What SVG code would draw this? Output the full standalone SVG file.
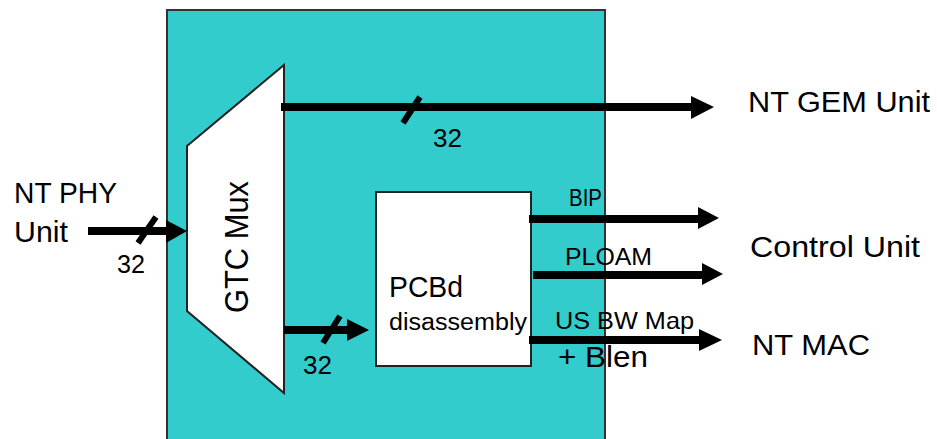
<svg xmlns="http://www.w3.org/2000/svg" width="937" height="439" viewBox="0 0 937 439">
<style>
text{font-family:"Liberation Sans",Arial,sans-serif;fill:#000}
.big{font-size:30px}
.mid{font-size:24px}
.num{font-size:25px}
.wire{stroke:#000;stroke-width:8;fill:none}
.tick{stroke:#000;stroke-width:6;fill:none}
.head{fill:#000;stroke:none}
.shape{fill:#fff;stroke:#222;stroke-width:2}
</style>
<rect width="937" height="439" fill="#fff"/>
<g id="gtc-block">
<rect x="167" y="10" width="438" height="440" fill="#33CCCC" stroke="#333" stroke-width="2"/>
</g>
<g id="gtc-mux">
<polygon class="shape" points="187,146 284,65 284,393 187,311"/>
<text transform="translate(248,247) rotate(-90)" text-anchor="middle" font-size="34" textLength="132" lengthAdjust="spacingAndGlyphs">GTC Mux</text>
</g>
<g id="pcbd">
<rect class="shape" x="376" y="192" width="155" height="174"/>
<text x="389" y="297" font-size="30" textLength="74" lengthAdjust="spacingAndGlyphs">PCBd</text>
<text x="389" y="330" font-size="23" textLength="138" lengthAdjust="spacingAndGlyphs">disassembly</text>
</g>
<g id="nt-phy">
<text class="big" x="14" y="203" textLength="103" lengthAdjust="spacingAndGlyphs">NT PHY</text>
<text class="big" x="14" y="242" textLength="54" lengthAdjust="spacingAndGlyphs">Unit</text>
</g>
<g id="nt-gem">
<text class="big" x="748" y="112" textLength="182" lengthAdjust="spacingAndGlyphs">NT GEM Unit</text>
</g>
<g id="control-unit">
<text class="big" x="750" y="257" textLength="170" lengthAdjust="spacingAndGlyphs">Control Unit</text>
</g>
<g id="nt-mac">
<text class="big" x="752" y="355" textLength="118" lengthAdjust="spacingAndGlyphs">NT MAC</text>
</g>
<g id="connectors">
<line class="wire" x1="88" y1="231" x2="168" y2="231"/>
<polygon class="head" points="166,220 187,231 166,243"/>
<line class="tick" x1="138" y1="243" x2="156" y2="217"/>
<text class="num" x="117" y="273" textLength="28" lengthAdjust="spacingAndGlyphs">32</text>
<line class="wire" x1="281" y1="107" x2="693" y2="107"/>
<polygon class="head" points="691,96 714,107 691,119"/>
<line class="tick" x1="403" y1="123" x2="420" y2="97"/>
<text class="num" x="433" y="147" textLength="29" lengthAdjust="spacingAndGlyphs">32</text>
<line class="wire" x1="284" y1="330" x2="349" y2="330"/>
<polygon class="head" points="347,319 369,330 347,341"/>
<line class="tick" x1="323" y1="343" x2="340" y2="316"/>
<text class="num" x="303" y="374" textLength="29" lengthAdjust="spacingAndGlyphs">32</text>
<line class="wire" x1="529" y1="219" x2="700" y2="219"/>
<polygon class="head" points="698,207 719,218 698,229"/>
<text class="mid" x="569" y="206" textLength="33" lengthAdjust="spacingAndGlyphs">BIP</text>
<line class="wire" x1="533" y1="275" x2="704" y2="275"/>
<polygon class="head" points="702,263 723,274 702,285"/>
<text class="mid" x="565" y="265" textLength="87" lengthAdjust="spacingAndGlyphs">PLOAM</text>
<line class="wire" x1="529" y1="340" x2="701" y2="340"/>
<polygon class="head" points="699,329 722,340 699,351"/>
<text class="mid" x="555" y="329" textLength="139" lengthAdjust="spacingAndGlyphs">US BW Map</text>
<text x="558" y="367" font-size="30" textLength="90" lengthAdjust="spacingAndGlyphs">+ Blen</text>
</g>
</svg>
